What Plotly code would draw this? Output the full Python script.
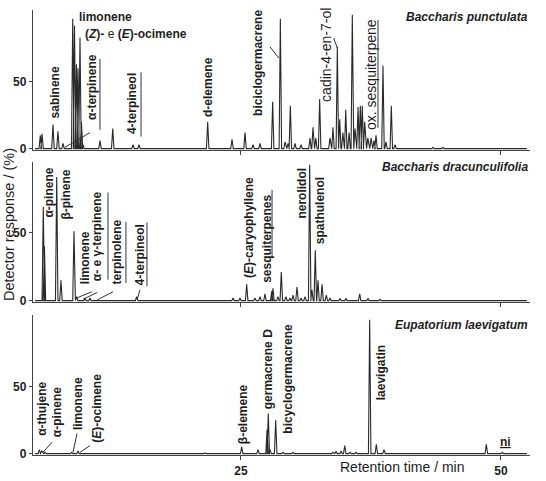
import plotly.graph_objects as go

# ---------------- data (retention time / min, response / %) ----------------
p1_time = [5.70, 5.87, 6.92, 7.40, 7.89, 8.82, 8.99, 9.18, 9.33, 9.52, 9.66, 9.81, 11.44, 12.67,
           14.62, 15.19, 21.80, 24.14, 25.39, 26.16, 26.83, 28.05, 28.79, 29.24, 29.53, 29.75,
           30.20, 30.78, 31.64, 31.93, 32.20, 32.57, 33.56, 33.85, 34.27, 34.50, 34.80, 35.08,
           35.40, 35.71, 35.97, 36.26, 36.48, 36.67, 36.90, 37.20, 37.51, 37.80, 37.99, 38.66,
           38.95, 39.46, 39.82, 43.47, 44.43]
p1_resp = [10, 11, 18, 13, 4, 97, 92, 63, 60, 83, 20, 3, 6, 15,
           3, 3, 20, 7, 12, 3, 4, 35, 97, 5, 4, 32,
           4, 3, 8, 16, 8, 37, 8, 16, 76, 22, 12, 29,
           12, 100, 15, 31, 32, 32, 20, 8, 8, 6, 10, 62,
           5, 32, 3, 1, 1]

p2_time = [5.99, 6.10, 7.28, 7.69, 8.94, 9.20, 10.00, 10.48, 14.97, 24.24, 24.91, 25.55, 26.35,
           26.83, 27.31, 27.96, 28.08, 28.56, 28.88, 29.33, 29.72, 30.01, 30.39, 30.78, 31.16,
           31.61, 31.83, 32.15, 32.41, 32.80, 33.21, 33.56, 34.53, 35.10, 36.42, 37.22, 38.37]
p2_resp = [69, 40, 91, 15, 51, 3, 2, 2, 3, 2, 2, 12, 2,
           3, 5, 7, 9, 3, 21, 3, 2, 4, 10, 2, 3,
           100, 8, 37, 15, 12, 4, 2, 1.5, 1.5, 5, 1.5, 1]

p3_time = [5.61, 5.84, 6.15, 8.72, 9.33, 21.54, 25.07, 26.64, 27.51, 27.63, 27.80, 28.34, 29.04,
           30.00, 33.85, 34.14, 34.62, 34.98, 35.49, 36.07, 37.38, 38.02, 38.76, 43.67, 48.60, 50.14]
p3_resp = [3, 2, 1, 1, 2, 0.5, 5, 3, 18, 30, 3, 25, 1,
           1, 1, 1.5, 2, 6, 1, 1, 100, 7, 3, 0.5, 7, 1]

species = ["Baccharis punctulata", "Baccharis dracunculifolia", "Eupatorium laevigatum"]
x_ticks = [25, 50]
y_ticks = [0, 50]

# ---------------- figure ----------------
FONT = "Liberation Sans, Arial, sans-serif"
LINE = "#2a2a2a"
HALF = 0.12  # half-width of each drawn peak (min)
XR = [5, 52.8]


def spikes(times, resp):
    xs, ys = [XR[0] + 0.2], [0]
    for t, h in sorted(zip(times, resp)):
        xs += [t - HALF, t, t + HALF]
        ys += [0, h, 0]
    xs.append(XR[1] - 0.3)
    ys.append(0)
    return xs, ys


fig = go.Figure()
panels = [(p1_time, p1_resp), (p2_time, p2_resp), (p3_time, p3_resp)]
for i, (t, r) in enumerate(panels):
    xs, ys = spikes(t, r)
    sfx = "" if i == 0 else str(i + 1)
    fig.add_trace(go.Scatter(x=xs, y=ys, mode="lines", line=dict(color=LINE, width=1.1),
                             xaxis="x" + sfx, yaxis="y" + sfx, showlegend=False,
                             hoverinfo="skip"))

domains = [[0.6854, 1.0], [0.3438, 0.6584], [0.0, 0.3146]]
yranges = [[-1, 103.5], [-1, 102], [-1, 103.5]]
layout = dict(width=546, height=481, margin=dict(l=33, r=16, t=10, b=26, autoexpand=False),
              paper_bgcolor="white", plot_bgcolor="white",
              font=dict(family=FONT, color="#1e1e1e"), showlegend=False)
for i in range(3):
    sfx = "" if i == 0 else str(i + 1)
    layout["xaxis" + sfx] = dict(range=XR, anchor="y" + sfx, showgrid=False, zeroline=False,
                                 automargin=False,
                                 showline=True, linecolor="#444", linewidth=1.3,
                                 ticks="outside", ticklen=4, tickcolor="#444",
                                 tickvals=x_ticks,
                                 ticktext=["<b>%d</b>" % v for v in x_ticks],
                                 showticklabels=(i == 2), tickfont=dict(size=12))
    layout["yaxis" + sfx] = dict(range=yranges[i], domain=domains[i], anchor="x" + sfx,
                                 automargin=False,
                                 showgrid=False, zeroline=False, showline=True,
                                 linecolor="#444", linewidth=1.3, ticks="outside",
                                 ticklen=3, tickcolor="#444", tickvals=y_ticks,
                                 ticktext=["<b>%d</b>" % v for v in y_ticks],
                                 tickfont=dict(size=12))
fig.update_layout(**layout)

# ---------------- peak labels ----------------
# (panel, text, x(min), y(%), angle, size)
labels = [
    (1, "<b>sabinene</b>", 7.12, 42, -90, 12),
    (1, "<b>α-terpinene</b>", 10.67, 46, -90, 12),
    (1, "<b>4-terpineol</b>", 14.52, 34, -90, 12),
    (1, "<b>d-elemene</b>", 21.83, 46, -90, 12),
    (1, "<b>biciclogermacrene</b>", 26.64, 64, -90, 12),
    (1, "cadin-4-en-7-ol", 33.18, 70, -90, 14),
    (1, "ox. sesquiterpene", 37.51, 55, -90, 14),
    (2, "<b>α-pinene</b>", 6.54, 79.5, -90, 12),
    (2, "<b>β-pinene</b>", 8.17, 78, -90, 12),
    (2, "<b>limonene</b>", 10.0, 32, -90, 12),
    (2, "<b>α- e γ-terpinene</b>", 11.16, 47.5, -90, 12),
    (2, "<b>terpinolene</b>", 13.08, 35.5, -90, 12),
    (2, "<b>4-terpineol</b>", 15.29, 34, -90, 12),
    (2, "<b>(<i>E</i>)-caryophyllene</b>", 25.78, 53.5, -90, 12),
    (2, "<b>sesquiterpenes</b>", 27.51, 45.5, -90, 12),
    (2, "<b>nerolidol</b>", 30.87, 79.5, -90, 12),
    (2, "<b>spathulenol</b>", 32.6, 66.5, -90, 12),
    (3, "<b>α-thujene</b>", 5.87, 33.5, -90, 12),
    (3, "<b>α-pinene</b>", 7.31, 31, -90, 12),
    (3, "<b>limonene</b>", 9.33, 37, -90, 12),
    (3, "<b>(<i>E</i>)-ocimene</b>", 11.16, 33.5, -90, 12),
    (3, "<b>β-elemene</b>", 25.2, 29.5, -90, 12),
    (3, "<b>germacrene D</b>", 27.6, 63, -90, 12),
    (3, "<b>bicyclogermacrene</b>", 29.53, 56, -90, 12),
    (3, "<b>laevigatin</b>", 38.47, 60, -90, 12),
    (3, "<b><u>ni</u></b>", 50.4, 8.5, 0, 12),
]
for p, txt, x, y, ang, sz in labels:
    sfx = "" if p == 1 else str(p)
    fig.add_annotation(text=txt, x=x, y=y, xref="x" + sfx, yref="y" + sfx,
                       textangle=ang, showarrow=False, xanchor="center", yanchor="middle",
                       font=dict(size=sz, color="#1e1e1e"))

# horizontal labels in the top panel
fig.add_annotation(text="<b>limonene</b>", x=9.23, y=98, xref="x", yref="y",
                   showarrow=False, xanchor="left", yanchor="middle",
                   font=dict(size=12, color="#1e1e1e"))
fig.add_annotation(text="<b>(<i>Z</i>)-</b> e <b>(<i>E</i>)-ocimene</b>", x=9.81, y=85.5,
                   xref="x", yref="y", showarrow=False, xanchor="left", yanchor="middle",
                   font=dict(size=12, color="#1e1e1e"))

# bracket / leader lines: (panel, x0, y0, x1, y1)
lines = [
    (1, 11.44, 67, 11.44, 14), (1, 10.48, 12, 8.08, 1), (1, 15.39, 57, 15.39, 9),
    (1, 27.79, 76, 28.66, 67.5), (1, 33.92, 82.5, 34.27, 75), (1, 38.18, 96, 38.18, 15.5),
    (2, 10.67, 6.5, 9.04, 1.5), (2, 12.21, 79.5, 12.21, 15.5), (2, 11.16, 6, 9.81, 1),
    (2, 13.94, 58, 13.94, 13), (2, 12.69, 6.5, 11.16, 0.5), (2, 15.96, 57.5, 15.96, 10.5),
    (2, 15.29, 8, 15.0, 0.5), (2, 27.99, 81.5, 27.99, 32.5),
    (3, 6.83, 8.5, 5.96, 1), (3, 9.23, 15, 8.85, 1), (3, 10.48, 6, 9.52, 1),
]
for p, x0, y0, x1, y1 in lines:
    sfx = "" if p == 1 else str(p)
    fig.add_shape(type="line", x0=x0, y0=y0, x1=x1, y1=y1, xref="x" + sfx, yref="y" + sfx,
                  line=dict(color="#333", width=1))

# species names
sp_y = [0.95, 0.964, 0.93]
for i, name in enumerate(species):
    sfx = "" if i == 0 else str(i + 1)
    fig.add_annotation(text="<b><i>%s</i></b>" % name, x=1.0, y=sp_y[i], xref="paper",
                       yref="y%s domain" % sfx, showarrow=False, xanchor="right",
                       yanchor="middle", font=dict(size=12, color="#1e1e1e"))

# axis titles
fig.add_annotation(text="Detector response / (%)", x=-0.048, y=0.517, xref="paper",
                   yref="paper", textangle=-90, showarrow=False, xanchor="center",
                   yanchor="middle", font=dict(size=14.5, color="#1e1e1e"))
fig.add_annotation(text="Retention time / min", x=0.744, y=-0.027, xref="paper",
                   yref="paper", showarrow=False, xanchor="center", yanchor="middle",
                   font=dict(size=14, color="#1e1e1e"))

fig.write_html("out.html")
